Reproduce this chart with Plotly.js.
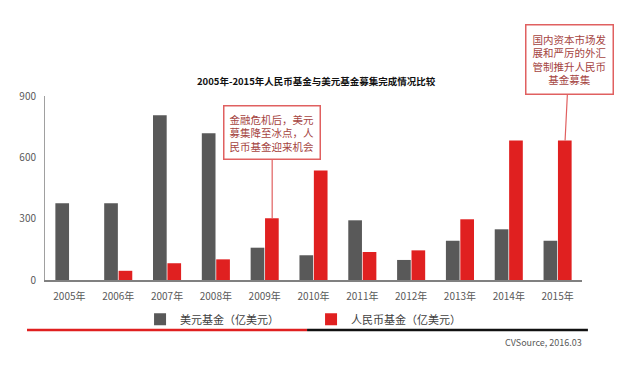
<!DOCTYPE html>
<html>
<head>
<meta charset="utf-8">
<script src="https://cdn.plot.ly/plotly-3.0.1.min.js"></script>
<style>html,body{margin:0;padding:0;background:#fff;}#chart{width:640px;height:367px;}</style>
</head>
<body>
<div id="chart"></div>
<script>
const years = ["2005年","2006年","2007年","2008年","2009年","2010年","2011年","2012年","2013年","2014年","2015年"];
const usdFunds = [376, 376, 806, 718, 158, 121, 292, 98, 192, 248, 192];
const rmbFunds = [0, 45, 82, 101, 302, 535, 137, 145, 297, 682, 682];
const seriesNames = ["美元基金（亿美元）", "人民币基金（亿美元）"];
const titleText = "2005年-2015年人民币基金与美元基金募集完成情况比较";
const note1 = "金融危机后，美元<br>募集降至冰点，人<br>民币基金迎来机会";
const note2 = "国内资本市场发<br>展和严厉的外汇<br>管制推升人民币<br>基金募集";
const sourceText = "CVSource, 2016.03";
const yTicks = [0, 300, 600, 900];

const narrow = "Liberation Sans Narrow, Arial Narrow, Noto Sans CJK SC, sans-serif";
const cjk = "Noto Sans CJK SC, sans-serif";

const traces = [
  {type:"bar", name: seriesNames[0], x: years, y: usdFunds, marker:{color:"#595959"}},
  {type:"bar", name: seriesNames[1], x: years, y: rmbFunds, marker:{color:"#e02020"}}
];

const layout = {
  width: 640, height: 367,
  margin: {l:45, r:58, t:96, b:87},
  paper_bgcolor: "#fff", plot_bgcolor: "#fff",
  barmode: "group", bargap: 0.41, bargroupgap: 0.05,
  showlegend: true,
  title: {text: titleText, x: 0.494, xanchor: "center", y: 0.777, yanchor: "middle",
          font: {family: cjk, size: 9.5, color: "#111", weight: "bold"}},
  xaxis: {type: "category", range: [-0.5, 10.5], showline: true, linecolor: "#808080", linewidth: 1.5,
          ticks: "", showgrid: false, zeroline: false,
          tickfont: {family: narrow, size: 10, color: "#595959"}, ticklabelstandoff: 6},
  yaxis: {range: [0, 900], tickvals: yTicks, showline: true, linecolor: "#a0a0a0", linewidth: 1,
          ticks: "", showgrid: false, zeroline: false,
          tickfont: {family: narrow, size: 10, color: "#595959"}, ticklabelstandoff: 6},
  legend: {orientation: "h", x: 0.177, xanchor: "left", y: -0.135, yanchor: "top",
           bgcolor: "rgba(0,0,0,0)",
           font: {family: cjk, size: 11, color: "#404040"}, itemwidth: 30, traceorder: "normal",
           entrywidth: 126},
  shapes: [
    {type:"line", xref:"paper", yref:"paper", x0:-0.0335, x1:0.488, y0:-0.272, y1:-0.272, line:{color:"#e02020", width:2.5}},
    {type:"line", xref:"paper", yref:"paper", x0:0.488, x1:1.011, y0:-0.272, y1:-0.272, line:{color:"#111", width:2.5}}
  ],
  annotations: [
    {x: years[4], y: rmbFunds[4], xref:"x", yref:"y", xshift: 7.5, text: note1, showarrow: true,
     arrowhead: 0, arrowwidth: 1.2, arrowcolor: "#e06060", ax: 0, ay: -86, standoff: 0,
     bordercolor: "#e06060", borderwidth: 1.5, borderpad: 5, bgcolor: "#fff", align: "center",
     font: {family: cjk, size: 10.5, color: "#a5443f"}},
    {x: years[10], y: rmbFunds[10], xref:"x", yref:"y", xshift: 7.5, text: note2, showarrow: true,
     arrowhead: 0, arrowwidth: 1.2, arrowcolor: "#e06060", ax: 4, ay: -81, standoff: 0,
     bordercolor: "#e06060", borderwidth: 1.5, borderpad: 6, bgcolor: "#fff", align: "center",
     font: {family: cjk, size: 10.5, color: "#a5443f"}},
    {xref:"paper", yref:"paper", x: 1.004, y: -0.342, xanchor: "right", yanchor: "middle",
     text: sourceText, showarrow: false, font: {family: narrow, size: 9, color: "#595959"}}
  ]
};

Plotly.newPlot("chart", traces, layout, {displayModeBar: false, staticPlot: true});
</script>
</body>
</html>
